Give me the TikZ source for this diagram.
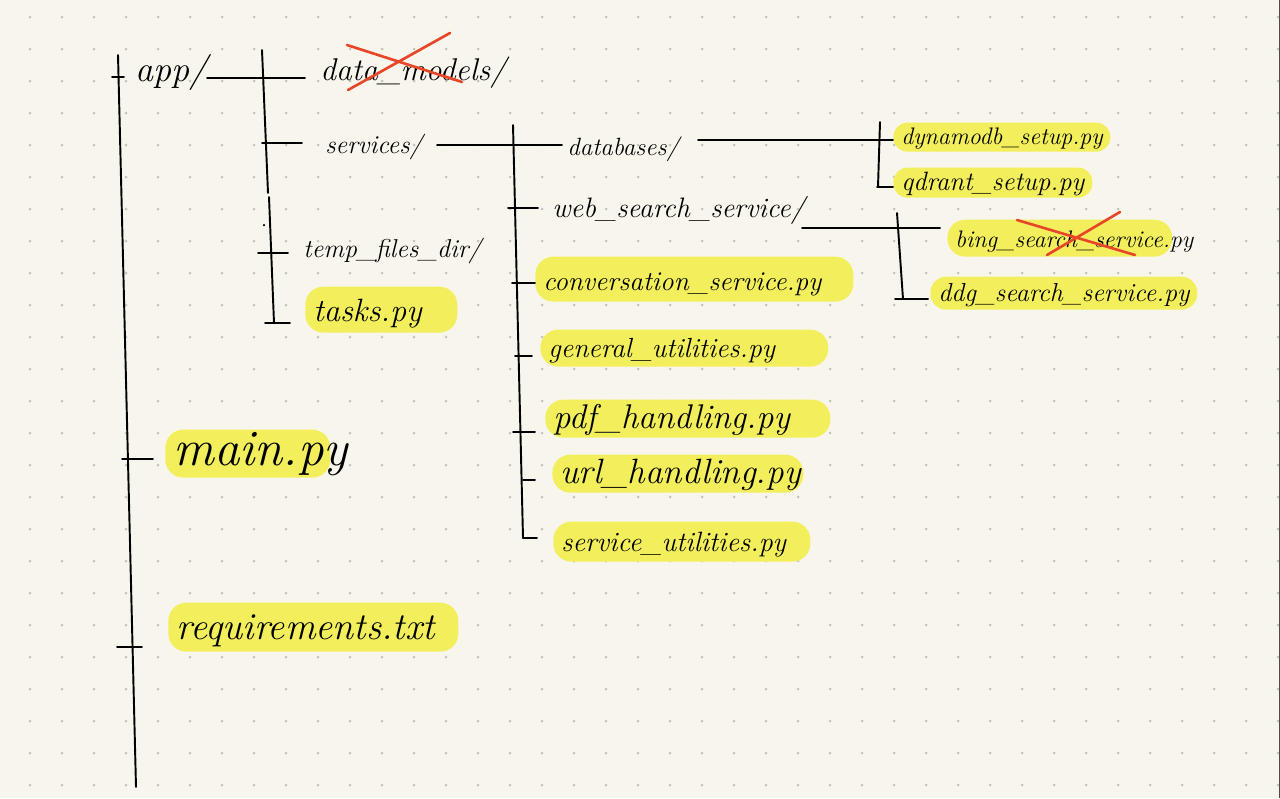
\documentclass[tikz,border=0pt]{standalone}
\usepackage{fontspec}
\usepackage{tikz}
\definecolor{paper}{RGB}{248,246,236}
\definecolor{dotgrey}{RGB}{196,196,186}
\definecolor{marker}{RGB}{243,239,92}
\definecolor{pencilred}{RGB}{232,70,40}
\newcommand{\hand}[1]{\fontsize{#1}{#1}\selectfont\itshape}
\tikzstyle{pen} = [line width=1.1pt, black, line cap=round, line join=round]
\tikzstyle{cross} = [line width=1.5pt, pencilred, line cap=round]
\tikzstyle{dir} = [anchor=base west, inner sep=0pt]
\tikzstyle{file} = [anchor=south west, fill=marker, rounded corners=0.28cm, inner xsep=0.16cm, inner ysep=0pt, align=left]
\tikzstyle{bigfile} = [file, rounded corners=0.36cm]

\begin{document}
\begin{tikzpicture}[x=0.02cm, y=-0.02cm]
\fill[paper] (0,0) rectangle (1280,798);
\useasboundingbox (0,0) rectangle (1280,798);
\foreach \i in {0,...,39}
  \foreach \j in {0,...,24}
    \fill[dotgrey] (30+32*\i, 17+32*\j) circle (0.03cm);
\draw[black!70, line width=0.04cm] (1279.5,0) -- (1279.5,798);

% folders
\node (app) [dir, font=\hand{20.5}] at (135,81) {app/};
\node (datamodels) [dir, font=\hand{17.9}] at (320,80) {data\_models/};
\node (services) [dir, font=\hand{14.7}] at (325,153) {services/};
\node (tempdir) [dir, font=\hand{14.7}] at (303,257) {temp\_files\_dir/};
\node (databases) [dir, font=\hand{14.2}] at (567,155) {databases/};
\node (websearch) [dir, font=\hand{16}] at (552,217) {web\_search\_service/};

% files
\node (tasks) [bigfile, font=\hand{18.4}, text width=2.72cm, text height=0.69cm, text depth=0.23cm] at (305,333) {tasks.py};
\node (mainpy) [bigfile, font=\hand{29}, text width=2.98cm, text height=0.72cm, text depth=0.24cm] at (165,478) {main.py};
\node (requirements) [bigfile, font=\hand{21.7}, text width=5.48cm, text height=0.735cm, text depth=0.245cm] at (168,652) {requirements.txt};
\node (conversation) [bigfile, font=\hand{15.5}, text width=6.04cm, text height=0.675cm, text depth=0.225cm] at (535,302) {conversation\_service.py};
\node (general) [bigfile, font=\hand{15.75}, text width=5.44cm, text height=0.555cm, text depth=0.185cm] at (540,367) {general\_utilities.py};
\node (pdf) [bigfile, font=\hand{19.5}, text width=5.38cm, text height=0.57cm, text depth=0.19cm] at (545,438) {pdf\_handling.py};
\node (url) [bigfile, font=\hand{20}, text width=4.70cm, text height=0.57cm, text depth=0.19cm] at (552,493) {url\_handling.py};
\node (serviceutil) [bigfile, font=\hand{15.9}, text width=4.82cm, text height=0.6cm, text depth=0.2cm] at (553,562) {service\_utilities.py};
\node (dynamodb) [file, font=\hand{13.6}, text width=4.02cm, text height=0.435cm, text depth=0.145cm] at (893,152) {dynamodb\_setup.py};
\node (qdrant) [file, font=\hand{15.1}, text width=3.66cm, text height=0.45cm, text depth=0.15cm] at (893,198) {qdrant\_setup.py};
\node (bing) [bigfile, font=\hand{13.6}, text width=4.18cm, text height=0.555cm, text depth=0.185cm] at (947,257) {bing\_search\_service.py};
\node (ddg) [file, rounded corners=0.32cm, font=\hand{14.8}, text width=5.02cm, text height=0.495cm, text depth=0.165cm] at (930,310) {ddg\_search\_service.py};

% tree lines
\coordinate (rootTop) at (118,55);
\coordinate (rootBot) at (136,787);
\coordinate (kApp) at (112,77);
\coordinate (kMain) at (122,459);
\coordinate (kReq) at (117,647);
\coordinate (hApp) at (207,78);
\coordinate (appTop) at (262,50);
\coordinate (appMid) at (268,193);
\coordinate (appMid2) at (269,197);
\coordinate (appBot) at (274,323);
\coordinate (kTasks) at (265,323);
\coordinate (kServices) at (262,143);
\coordinate (kTemp) at (258,253);
\coordinate (hServices) at (437,145);
\coordinate (srvTop) at (513,125);
\coordinate (srvBot) at (523,538);
\coordinate (kWeb) at (508,208);
\coordinate (kConv) at (512,283);
\coordinate (kGeneral) at (515,356);
\coordinate (kPdf) at (513,432);
\coordinate (kUrl) at (523,480);
\coordinate (hDatabases) at (698,140);
\coordinate (dbTop) at (880,122);
\coordinate (dbBot) at (878,187);
\coordinate (kQdrant) at (877,187);
\coordinate (hWeb) at (802,228);
\coordinate (webTop) at (897,213);
\coordinate (webBot) at (903,299);
\coordinate (kDdg) at (895,299);

\draw [pen] (rootTop) -- (rootBot);
\draw [pen, shorten >=0.22cm] (kApp) -- (kApp -| app.west);
\draw [pen, shorten >=0.24cm] (kMain) -- (kMain -| mainpy.west);
\draw [pen, shorten >=0.52cm] (kReq) -- (kReq -| requirements.west);
\draw [pen, shorten >=0.3cm] (hApp) -- (hApp -| datamodels.west);
\draw [pen] (appTop) -- (appMid);
\draw [pen] (appMid2) -- (appBot);
\draw [pen, shorten >=0.3cm] (kTasks) -- (kTasks -| tasks.west);
\draw [pen, shorten >=0.46cm] (kServices) -- (kServices -| services.west);
\draw [pen, shorten >=0.3cm] (kTemp) -- (kTemp -| tempdir.west);
\fill (264,225) circle (0.025cm);
\draw [pen, shorten >=0.1cm] (hServices) -- (hServices -| databases.west);
\draw [pen] (srvTop) -- (srvBot);
\draw [pen, shorten >=0.32cm] (srvBot) -- (srvBot -| serviceutil.west);
\draw [pen, shorten >=0.28cm] (kWeb) -- (kWeb -| websearch.west);
\draw [pen] (kConv) -- (kConv -| conversation.west);
\draw [pen, shorten >=0.16cm] (kGeneral) -- (kGeneral -| general.west);
\draw [pen, shorten >=0.2cm] (kPdf) -- (kPdf -| pdf.west);
\draw [pen, shorten >=0.34cm] (kUrl) -- (kUrl -| url.west);
\draw [pen] (hDatabases) -- (hDatabases -| dynamodb.west);
\draw [pen] (dbTop) -- (dbBot);
\draw [pen] (kQdrant) -- (kQdrant -| qdrant.west);
\draw [pen, shorten >=0.14cm] (hWeb) -- (hWeb -| bing.west);
\draw [pen] (webTop) -- (webBot);
\draw [pen, shorten >=0.04cm] (kDdg) -- (kDdg -| ddg.west);

% crossed out
\draw [cross] (347,45) -- (462,82);
\draw [cross] (348,90) -- (450,33);
\draw [cross] (1017,220) -- (1135,255);
\draw [cross] (1047,255) -- (1120,212);
\end{tikzpicture}
\end{document}
